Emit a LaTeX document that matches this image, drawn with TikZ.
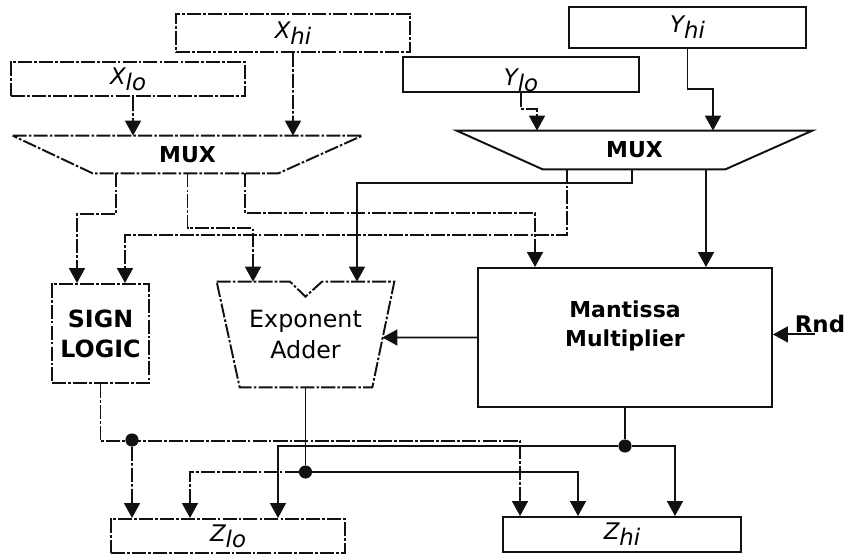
\documentclass[tikz,border=0pt]{standalone}
\usepackage{fontspec}
\setmainfont{DejaVu Sans}
\usepackage{tikz}
\usetikzlibrary{arrows.meta,positioning}
\definecolor{InkBlack}{HTML}{111111}
\newcommand{\busname}[2]{{\itshape #1\raisebox{-3.6pt}{#2}}}
\tikzset{
  wire/.style={draw=InkBlack,line width=1.1pt},
  scanwire/.style={wire,dash pattern=on 8pt off 1.2pt on 1.5pt off 1.2pt},
  flow/.style={-{Triangle[width=9pt,length=8.5pt]}},
  regbox/.style={rectangle,inner sep=0pt,font=\fontsize{13}{15}\selectfont},
  unitbox/.style={rectangle,inner sep=0pt,align=center},
  junction/.style={circle,fill=InkBlack,inner sep=0pt,minimum size=7.5pt},
}

\begin{document}
\begin{tikzpicture}[x=0.02cm,y=-0.02cm]
    \useasboundingbox (0,0) rectangle (845,554);
    % operand registers
    \node[regbox,scanwire,minimum width=4.68cm,minimum height=0.76cm] (xhi) at (293,33) {\busname{X}{hi}};
    \node[regbox,scanwire,minimum width=4.68cm,minimum height=0.68cm] (xlo) at (128,79) {\busname{X}{lo}};
    \node[regbox,wire,minimum width=4.74cm,minimum height=0.82cm] (yhi) at (687.5,27.5) {\busname{Y}{hi}};
    \node[regbox,wire,minimum width=4.72cm,minimum height=0.7cm,text height=0.55cm,text depth=0.12cm] (ylo) at (521,74.5) {\busname{Y}{lo}};
    % multiplexers
    \node[unitbox,font=\bfseries\fontsize{12.5}{14}\selectfont,minimum width=6.98cm,minimum height=0.74cm] (muxl) at (187.5,154.5) {MUX};
    \draw[scanwire] (muxl.north west) -- (muxl.north east) -- ([xshift=-1.68cm]muxl.south east)
      -- ([xshift=1.6cm]muxl.south west) -- cycle;
    \node[unitbox,font=\bfseries\fontsize{12.5}{14}\selectfont,minimum width=7.1cm,minimum height=0.76cm] (muxr) at (634.5,150) {MUX};
    \draw[wire] (muxr.north west) -- (muxr.north east) -- ([xshift=-1.74cm]muxr.south east)
      -- ([xshift=1.72cm]muxr.south west) -- cycle;
    % arithmetic units
    \node[unitbox,scanwire,font=\bfseries\fontsize{13.5}{17}\selectfont,minimum width=1.94cm,minimum height=1.98cm] (sign) at (100.5,333.5) {SIGN\\LOGIC};
    \node[unitbox,font=\fontsize{13.5}{17.5}\selectfont,minimum width=3.54cm,minimum height=2.1cm] (expadd) at (305.5,334.5) {Exponent\\Adder};
    \draw[scanwire] (expadd.north west) -- ([xshift=-0.31cm]expadd.north) -- ([yshift=-0.3cm]expadd.north)
      -- ([xshift=0.33cm]expadd.north) -- (expadd.north east) -- ([xshift=-0.44cm]expadd.south east)
      -- ([xshift=0.46cm]expadd.south west) -- cycle;
    \node[unitbox,wire,minimum width=5.88cm,minimum height=2.78cm,
          label={[unitbox,font=\bfseries\fontsize{12.5}{16.5}\selectfont,yshift=0.24cm]center:Mantissa\\Multiplier}] (mant) at (625,337.5) {};
    \node[font=\bfseries\fontsize{13}{15}\selectfont,inner sep=1pt,anchor=base] (rnd) at (820,332) {Rnd};
    % result registers
    \node[regbox,scanwire,minimum width=4.68cm,minimum height=0.68cm] (zlo) at (228,536) {\busname{Z}{lo}};
    \node[regbox,wire,minimum width=4.76cm,minimum height=0.7cm] (zhi) at (622,534.5) {\busname{Z}{hi}};
    \node[junction] (j1) at (132,440) {};
    \node[junction] (j2) at (305.5,472) {};
    \node[junction] (j3) at (625,446) {};
    % inputs
    \draw[scanwire,flow] (xhi.south) -- ([xshift=2.11cm]muxl.north);
    \draw[scanwire,flow] ([xshift=0.1cm]xlo.south) -- ([xshift=-1.09cm]muxl.north);
    \draw[scanwire,flow] (ylo.south) -- ++(0,16) -| ([xshift=-1.95cm]muxr.north);
    \draw[wire,flow] (yhi.south) -- ++(0,40) -| ([xshift=1.57cm]muxr.north);
    % multiplexer outputs
    \draw[scanwire,flow] ([xshift=-1.43cm]muxl.south) -- ++(0,41) -| ([xshift=-0.47cm]sign.north);
    \draw[scanwire,flow] (muxl.south) -- ++(0,55) -| ([xshift=-1.05cm]expadd.north);
    \draw[scanwire,flow] ([xshift=1.15cm]muxl.south) -- ++(0,40) -| ([xshift=-1.8cm]mant.north);
    \draw[wire,flow] ([xshift=-0.05cm]muxr.south) -- ++(0,14) -| ([xshift=1.03cm]expadd.north);
    \draw[scanwire,flow] ([xshift=-1.35cm]muxr.south) -- ++(0,66) -| ([xshift=0.49cm]sign.north);
    \draw[wire,flow] ([xshift=1.43cm]muxr.south) -- ([xshift=1.62cm]mant.north);
    \draw[wire,flow] (mant.west) -- ([xshift=-0.24cm,yshift=-0.06cm]expadd.east);
    \draw[wire,flow] ([xshift=-0.1cm]rnd.south) -- (rnd.south -| mant.east);
    % results
    \draw[scanwire,flow] (sign.south) -- ++(0,57) -| ([xshift=-2.04cm]zhi.north);
    \draw[scanwire,flow] (j1) -- ([xshift=-1.92cm]zlo.north);
    \draw[wire] (expadd.south) -- (j2);
    \draw[scanwire,flow] (j2) -| ([xshift=-0.76cm]zlo.north);
    \draw[wire,flow] (j2) -| ([xshift=-0.88cm]zhi.north);
    \draw[wire] (mant.south) -- (j3);
    \draw[wire,flow] (j3) -| ([xshift=1.06cm]zhi.north);
    \draw[wire,flow] (j3) -| ([xshift=1cm]zlo.north);
\end{tikzpicture}
\end{document}
